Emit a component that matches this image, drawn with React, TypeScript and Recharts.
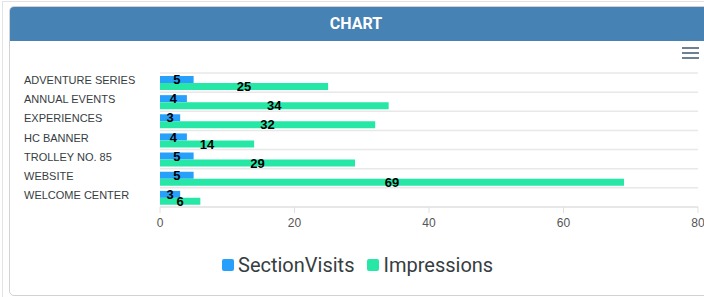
import React from 'react';
import {
    BarChart,
    Bar,
    XAxis,
    YAxis,
    CartesianGrid,
    LabelList,
} from 'recharts';

const categories = [
    'ADVENTURE SERIES',
    'ANNUAL EVENTS',
    'EXPERIENCES',
    'HC BANNER',
    'TROLLEY NO. 85',
    'WEBSITE',
    'WELCOME CENTER',
];
const sectionVisits = [5, 4, 3, 4, 5, 5, 3];
const impressions = [25, 34, 32, 14, 29, 69, 6];
const xTicks = [0, 20, 40, 60, 80];

const BLUE = '#26a0fb';
const GREEN = '#26e7a6';
const FONT = 'Liberation Sans, Arial, sans-serif';

const data = categories.map((name, i) => ({
    name,
    SectionVisits: sectionVisits[i],
    Impressions: impressions[i],
}));

const legendItems = [
    { label: 'SectionVisits', color: BLUE },
    { label: 'Impressions', color: GREEN },
];

const CategoryTick = (props: any) => {
    const { y, payload } = props;
    return (
        <text x={24} y={y} dy={1.5} textAnchor="start" fill="#373d3f" fontSize={11} fontFamily={FONT}>
            {payload.value}
        </text>
    );
};

export default function App() {
    return (
        <div
            style={{
                position: 'fixed',
                left: 0,
                top: 0,
                width: 704,
                height: 297,
                overflow: 'hidden',
                background: '#fff',
            }}
        >
            {/* outer frame */}
            <div
                style={{
                    position: 'absolute',
                    left: 2,
                    top: 1,
                    width: 720,
                    height: 320,
                    border: '1px solid #e2e2e2',
                }}
            />
            {/* card */}
            <div
                style={{
                    position: 'absolute',
                    left: 9,
                    top: 6,
                    width: 720,
                    height: 288,
                    border: '1px solid #d2d2d2',
                    borderRadius: 5,
                    overflow: 'hidden',
                    background: '#fff',
                }}
            >
                <div style={{ height: 34, width: 720, background: '#4682b4' }}>
                    <div
                        style={{
                            width: 692,
                            color: '#fff',
                            fontFamily: 'Roboto, sans-serif',
                            fontWeight: 700,
                            fontSize: 16,
                            lineHeight: '34px',
                            textAlign: 'center',
                        }}
                    >
                        CHART
                    </div>
                </div>
            </div>
            {/* menu icon */}
            <div style={{ position: 'absolute', left: 682, top: 47 }}>
                {[0, 5, 10].map((o) => (
                    <div
                        key={o}
                        style={{
                            position: 'absolute',
                            top: o,
                            left: 0,
                            width: 17,
                            height: 2,
                            background: '#6e8192',
                        }}
                    />
                ))}
            </div>
            <div style={{ position: 'absolute', left: 0, top: 0 }}>
                <BarChart
                    width={704}
                    height={297}
                    data={data}
                    layout="vertical"
                    margin={{ top: 73, right: 6, bottom: 60, left: 0 }}
                    barCategoryGap={3}
                    barGap={0}
                >
                    <CartesianGrid
                        vertical={false}
                        stroke="#e8e8e8"
                        strokeWidth={1.5}
                        horizontalCoordinatesGenerator={({ offset }: any) =>
                            Array.from({ length: categories.length + 1 }, (_, i) =>
                                offset.top + (i * offset.height) / categories.length
                            )
                        }
                    />
                    <XAxis
                        type="number"
                        domain={[0, 80]}
                        ticks={xTicks}
                        height={30}
                        axisLine={{ stroke: '#e0e0e0' }}
                        tickLine={{ stroke: '#e0e0e0' }}
                        tickSize={6}
                        tick={{ fill: '#555', fontSize: 12, fontFamily: FONT }}
                        tickMargin={5}
                        interval={0}
                    />
                    <YAxis
                        type="category"
                        dataKey="name"
                        width={160}
                        axisLine={false}
                        tickLine={false}
                        tick={<CategoryTick />}
                        interval={0}
                    />
                    <Bar dataKey="SectionVisits" fill={BLUE} isAnimationActive={false}>
                        <LabelList
                            dataKey="SectionVisits"
                            position="center"
                            fill="#000"
                            fontSize={13}
                            fontWeight={700}
                            fontFamily={FONT}
                        />
                    </Bar>
                    <Bar dataKey="Impressions" fill={GREEN} isAnimationActive={false}>
                        <LabelList
                            dataKey="Impressions"
                            position="center"
                            fill="#000"
                            fontSize={13}
                            fontWeight={700}
                            fontFamily={FONT}
                        />
                    </Bar>
                </BarChart>
            </div>
            {/* legend */}
            <div
                style={{
                    position: 'absolute',
                    left: 222,
                    top: 252,
                    height: 26,
                    display: 'flex',
                    alignItems: 'center',
                    fontFamily: 'Roboto, sans-serif',
                    fontSize: 20,
                    color: '#373d3f',
                }}
            >
                {legendItems.map((item) => (
                    <span key={item.label} style={{ display: 'flex', alignItems: 'center', marginRight: 13 }}>
                        <span
                            style={{
                                display: 'inline-block',
                                width: 12,
                                height: 12,
                                borderRadius: 2,
                                background: item.color,
                                marginRight: 4,
                            }}
                        />
                        {item.label}
                    </span>
                ))}
            </div>
        </div>
    );
}
